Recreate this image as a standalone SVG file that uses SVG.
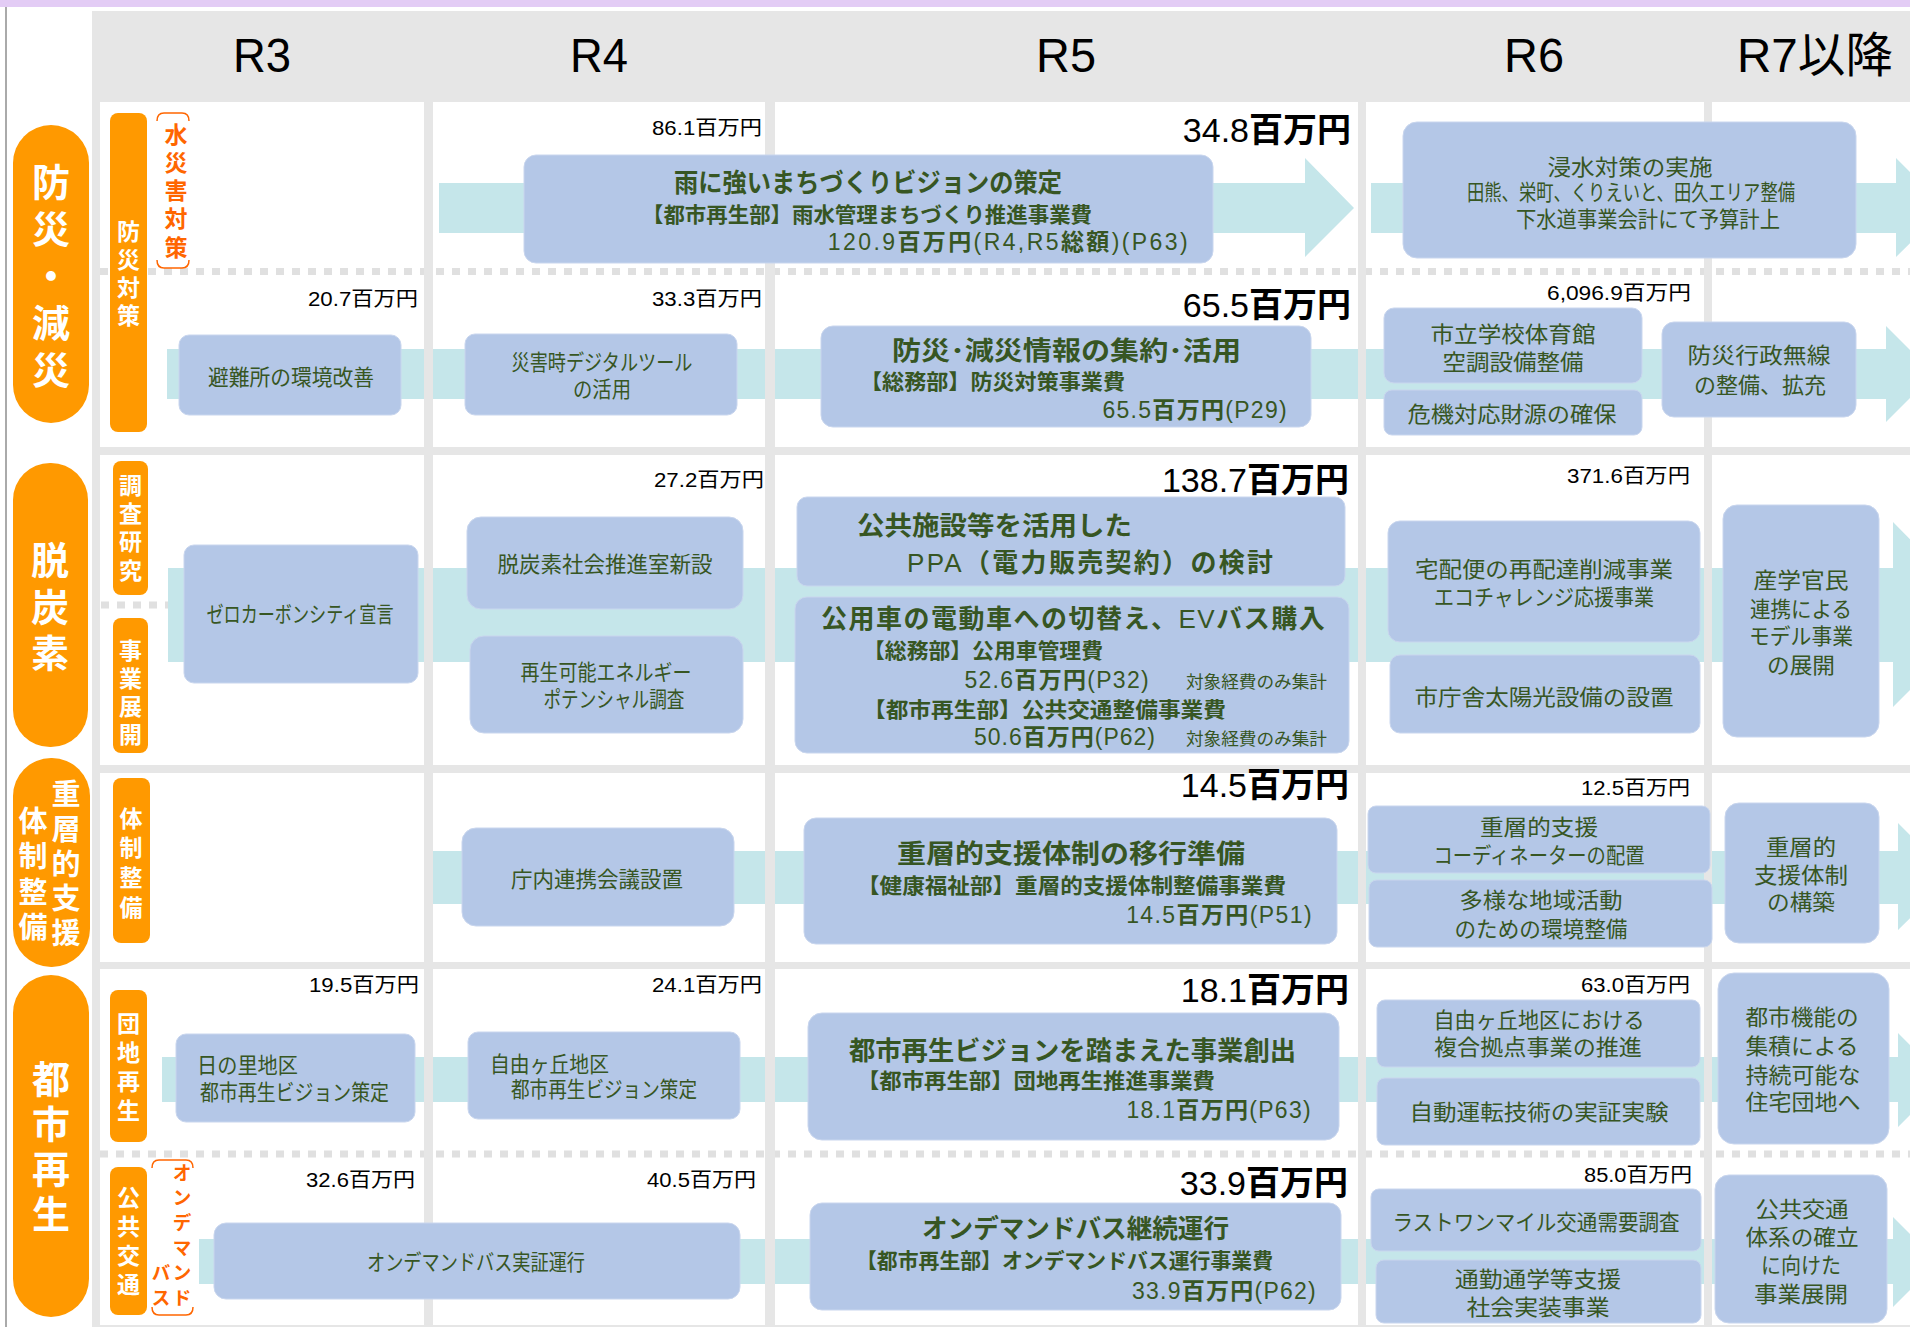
<svg xmlns="http://www.w3.org/2000/svg" width="1910" height="1327" viewBox="0 0 1910 1327">
<defs>
<style>
.cell{fill:#fff}
.sep{fill:#E6E6E6}
.band{fill:#C5E6EA}
.node{fill:#B4C7E7;stroke:#C9D6EE;stroke-width:1}
.dot{stroke:#E0E0E0;stroke-width:7;stroke-dasharray:8 8;fill:none}
.pill{fill:#FF9900}
.hdr{font-family:"Liberation Sans",Arial,sans-serif;font-size:48px;fill:#000;text-anchor:middle}
.hj{font-family:"Liberation Sans","Noto Sans CJK JP",sans-serif;font-size:48px;fill:#000}
.vw{font-family:"Noto Sans CJK JP",sans-serif;font-weight:bold;fill:#fff;writing-mode:vertical-rl;text-anchor:start}
.vo{font-family:"Noto Sans CJK JP",sans-serif;font-weight:bold;fill:#FF6600;writing-mode:vertical-rl;text-anchor:start}
.brk{fill:none;stroke:#FF6600;stroke-width:1.5}
.n{font-family:"Liberation Sans","Noto Sans CJK JP",sans-serif;font-size:22px;fill:#375623;text-anchor:middle}
.ns2{text-anchor:start}
.nt{font-family:"Liberation Sans","Noto Sans CJK JP",sans-serif;font-size:26px;font-weight:bold;fill:#375623}
.nd{font-family:"Liberation Sans","Noto Sans CJK JP",sans-serif;font-size:21px;font-weight:bold;fill:#375623}
.nm{font-family:"Liberation Sans","Noto Sans CJK JP",sans-serif;font-size:23px;fill:#375623;text-anchor:end}
.ns{font-family:"Liberation Sans","Noto Sans CJK JP",sans-serif;font-size:17px;fill:#375623}
.a{font-family:"Liberation Sans","Noto Sans CJK JP",sans-serif;font-size:20px;fill:#000;text-anchor:end}
.A{font-family:"Liberation Sans","Noto Sans CJK JP",sans-serif;font-size:34px;fill:#000;text-anchor:end}
.b{font-weight:bold}
.r{font-weight:normal;font-family:"Liberation Sans",sans-serif}
</style>
</defs>

<g id="background">
<rect x="0" y="0" width="1910" height="1327" fill="#fff"/>
<rect x="0" y="0" width="1910" height="7" fill="#E3CCF5"/>
<rect x="5" y="7" width="2" height="1320" fill="#AAAAAA"/>
<rect x="92" y="11" width="1818" height="1316" fill="#E6E6E6"/>
</g>

<g id="header">
<text class="hdr" x="262" y="72" textLength="58" lengthAdjust="spacingAndGlyphs">R3</text>
<text class="hdr" x="599" y="72" textLength="58" lengthAdjust="spacingAndGlyphs">R4</text>
<text class="hdr" x="1066" y="72" textLength="60" lengthAdjust="spacingAndGlyphs">R5</text>
<text class="hdr" x="1534" y="72" textLength="60" lengthAdjust="spacingAndGlyphs">R6</text>
<text class="hj" x="1737" y="72" textLength="156" lengthAdjust="spacingAndGlyphs">R7以降</text>
</g>

<g id="cells">
<rect class="cell" x="100" y="102" width="324" height="345"/>
<rect class="cell" x="433" y="102" width="332" height="345"/>
<rect class="cell" x="775" y="102" width="583" height="345"/>
<rect class="cell" x="1366" y="102" width="338" height="345"/>
<rect class="cell" x="1712" y="102" width="198" height="345"/>
<rect class="cell" x="100" y="455" width="324" height="310"/>
<rect class="cell" x="433" y="455" width="332" height="310"/>
<rect class="cell" x="775" y="455" width="583" height="310"/>
<rect class="cell" x="1366" y="455" width="338" height="310"/>
<rect class="cell" x="1712" y="455" width="198" height="310"/>
<rect class="cell" x="100" y="773" width="324" height="189"/>
<rect class="cell" x="433" y="773" width="332" height="189"/>
<rect class="cell" x="775" y="773" width="583" height="189"/>
<rect class="cell" x="1366" y="773" width="338" height="189"/>
<rect class="cell" x="1712" y="773" width="198" height="189"/>
<rect class="cell" x="100" y="969" width="324" height="356"/>
<rect class="cell" x="433" y="969" width="332" height="356"/>
<rect class="cell" x="775" y="969" width="583" height="356"/>
<rect class="cell" x="1366" y="969" width="338" height="356"/>
<rect class="cell" x="1712" y="969" width="198" height="356"/>
<line class="dot" x1="100" y1="271.5" x2="1910" y2="271.5"/>
<line class="dot" x1="100" y1="1154" x2="1910" y2="1154"/>
<line class="dot" x1="101" y1="605" x2="168" y2="605"/>
</g>

<g id="connectors">
<polygon class="band" points="439,183 1305,183 1305,158 1354,208 1305,257 1305,233 439,233"/>
<polygon class="band" points="1371,183 1896,183 1896,158 1946,208 1896,257 1896,233 1371,233"/>
<polygon class="band" points="167,349 1886,349 1886,326 1934,374 1886,422 1886,399 167,399"/>
<polygon class="band" points="168,568 1893,568 1893,522 1985,615 1893,707 1893,662 168,662"/>
<polygon class="band" points="433,851 1898,851 1898,823 1952,877 1898,930 1898,904 433,904"/>
<polygon class="band" points="162,1057 1898,1057 1898,1033 1945,1080 1898,1127 1898,1102 162,1102"/>
<polygon class="band" points="199,1239 1893,1239 1893,1217 1938,1262 1893,1307 1893,1284 199,1284"/>
</g>

<g id="separators">
<rect class="sep" x="424" y="102" width="9" height="1223"/>
<rect class="sep" x="765" y="102" width="10" height="1223"/>
<rect class="sep" x="1358" y="102" width="8" height="1223"/>
<rect class="sep" x="1704" y="102" width="8" height="1223"/>
<rect class="sep" x="100" y="447" width="1810" height="8"/>
<rect class="sep" x="100" y="765" width="1810" height="8"/>
<rect class="sep" x="100" y="962" width="1810" height="7"/>
</g>

<g id="cat-bousai">
<rect class="pill" x="13" y="125" width="76" height="298" rx="38"/>
<text class="vw" x="51" y="163" font-size="38" letter-spacing="9">防災・減災</text>
</g>
<g id="cat-datsutanso">
<rect class="pill" x="13" y="463" width="75" height="284" rx="37"/>
<text class="vw" x="50" y="541" font-size="38" letter-spacing="8.5">脱炭素</text>
</g>
<g id="cat-juusou">
<rect class="pill" x="13" y="758" width="77" height="209" rx="38"/>
<text class="vw" x="66" y="779.5" font-size="29" letter-spacing="5.75">重層的支援</text>
<text class="vw" x="33" y="806.5" font-size="29" letter-spacing="6.3">体制整備</text>
</g>
<g id="cat-toshi">
<rect class="pill" x="13" y="975" width="76" height="342" rx="38"/>
<text class="vw" x="51" y="1060" font-size="38" letter-spacing="6.7">都市再生</text>
</g>

<g id="sub-bousaitaisaku">
<rect class="pill" x="110" y="113" width="37" height="319" rx="8"/>
<text class="vw" x="128.5" y="219.5" font-size="23" letter-spacing="5">防災対策</text>
</g>
<g id="sub-suisai">
<path class="brk" d="M157,121 Q157,113 164,113 L182,113 Q189,113 189,121"/>
<path class="brk" d="M157,260 Q157,268 164,268 L182,268 Q189,268 189,260"/>
<text class="vo" x="176" y="122.5" font-size="23" letter-spacing="5.25">水災害対策</text>
</g>
<g id="sub-chousa">
<rect class="pill" x="113" y="461" width="35" height="134" rx="8"/>
<text class="vw" x="130.5" y="473.5" font-size="23" letter-spacing="5.3">調査研究</text>
</g>
<g id="sub-jigyou">
<rect class="pill" x="113" y="618" width="35" height="135" rx="8"/>
<text class="vw" x="130.5" y="638.5" font-size="23" letter-spacing="5">事業展開</text>
</g>
<g id="sub-taisei">
<rect class="pill" x="113" y="778" width="37" height="165" rx="8"/>
<text class="vw" x="131" y="806.5" font-size="23" letter-spacing="6.7">体制整備</text>
</g>
<g id="sub-danchi">
<rect class="pill" x="110" y="990" width="37" height="152" rx="8"/>
<text class="vw" x="128.5" y="1011.5" font-size="23" letter-spacing="6">団地再生</text>
</g>
<g id="sub-koukyou">
<rect class="pill" x="110" y="1167" width="37" height="148" rx="8"/>
<text class="vw" x="128.5" y="1185.5" font-size="23" letter-spacing="6">公共交通</text>
</g>
<g id="sub-ondemand">
<path class="brk" d="M152,1168 Q152,1160 159,1160 L186,1160 Q193,1160 193,1168"/>
<path class="brk" d="M152,1307 Q152,1315 159,1315 L186,1315 Q193,1315 193,1307"/>
<text class="vo" x="182" y="1163.5" font-size="19" letter-spacing="6">オンデマンド</text>
<text class="vo" x="161" y="1263.5" font-size="19" letter-spacing="6">バス</text>
</g>

<g id="amounts">
<text class="a" x="762" y="135" textLength="110" lengthAdjust="spacingAndGlyphs">86.1百万円</text>
<text class="A" x="1351" y="142">34.8<tspan class="b">百万円</tspan></text>
<text class="a" x="418" y="306" textLength="110" lengthAdjust="spacingAndGlyphs">20.7百万円</text>
<text class="a" x="762" y="306" textLength="110" lengthAdjust="spacingAndGlyphs">33.3百万円</text>
<text class="A" x="1351" y="317">65.5<tspan class="b">百万円</tspan></text>
<text class="a" x="1691" y="300" textLength="144" lengthAdjust="spacingAndGlyphs">6,096.9百万円</text>
<text class="a" x="764" y="487" textLength="110" lengthAdjust="spacingAndGlyphs">27.2百万円</text>
<text class="A" x="1349" y="492">138.7<tspan class="b">百万円</tspan></text>
<text class="a" x="1690" y="483" textLength="123" lengthAdjust="spacingAndGlyphs">371.6百万円</text>
<text class="A" x="1349" y="797">14.5<tspan class="b">百万円</tspan></text>
<text class="a" x="1690" y="795" textLength="109" lengthAdjust="spacingAndGlyphs">12.5百万円</text>
<text class="a" x="419" y="992" textLength="110" lengthAdjust="spacingAndGlyphs">19.5百万円</text>
<text class="a" x="762" y="992" textLength="110" lengthAdjust="spacingAndGlyphs">24.1百万円</text>
<text class="A" x="1349" y="1002">18.1<tspan class="b">百万円</tspan></text>
<text class="a" x="1690" y="992" textLength="109" lengthAdjust="spacingAndGlyphs">63.0百万円</text>
<text class="a" x="415" y="1187" textLength="109" lengthAdjust="spacingAndGlyphs">32.6百万円</text>
<text class="a" x="756" y="1187" textLength="109" lengthAdjust="spacingAndGlyphs">40.5百万円</text>
<text class="A" x="1348" y="1195">33.9<tspan class="b">百万円</tspan></text>
<text class="a" x="1692" y="1182" textLength="108" lengthAdjust="spacingAndGlyphs">85.0百万円</text>
</g>

<g id="node-amenitsuyoi">
<rect class="node" x="524" y="155" width="689" height="108" rx="12"/>
<text class="nt" x="674" y="192" textLength="388" lengthAdjust="spacingAndGlyphs">雨に強いまちづくりビジョンの策定</text>
<text class="nd" x="642" y="222" textLength="450" lengthAdjust="spacingAndGlyphs">【都市再生部】雨水管理まちづくり推進事業費</text>
<text class="nm" x="1190" y="250" letter-spacing="2.4">120.9<tspan class="b">百万円</tspan>(R4,R5<tspan class="b">総額</tspan>)(P63)</text>
</g>
<g id="node-shinsui">
<rect class="node" x="1403" y="122" width="453" height="136" rx="14"/>
<text class="n" x="1630" y="175" textLength="165" lengthAdjust="spacingAndGlyphs">浸水対策の実施</text>
<text class="n" x="1631" y="200" font-size="19" textLength="328" lengthAdjust="spacingAndGlyphs">田熊、栄町、くりえいと、田久エリア整備</text>
<text class="n" x="1648" y="227" font-size="20" textLength="264" lengthAdjust="spacingAndGlyphs">下水道事業会計にて予算計上</text>
</g>
<g id="node-hinanjo">
<rect class="node" x="179" y="335" width="222" height="80" rx="10"/>
<text class="n" x="291" y="385" textLength="166" lengthAdjust="spacingAndGlyphs">避難所の環境改善</text>
</g>
<g id="node-digital">
<rect class="node" x="465" y="334" width="272" height="81" rx="10"/>
<text class="n" x="602" y="370" textLength="181" lengthAdjust="spacingAndGlyphs">災害時デジタルツール</text>
<text class="n" x="602" y="397" textLength="58" lengthAdjust="spacingAndGlyphs">の活用</text>
</g>
<g id="node-bousaijouhou">
<rect class="node" x="821" y="326" width="490" height="101" rx="12"/>
<text class="nt" x="892" y="360" textLength="349" lengthAdjust="spacingAndGlyphs">防災･減災情報の集約･活用</text>
<text class="nd" x="860" y="389" textLength="265" lengthAdjust="spacingAndGlyphs">【総務部】防災対策事業費</text>
<text class="nm" x="1288" y="418" letter-spacing="1.3">65.5<tspan class="b">百万円</tspan>(P29)</text>
</g>
<g id="node-taiikukan">
<rect class="node" x="1384" y="308" width="258" height="75" rx="10"/>
<text class="n" x="1513" y="342" textLength="165" lengthAdjust="spacingAndGlyphs">市立学校体育館</text>
<text class="n" x="1513" y="370" textLength="141" lengthAdjust="spacingAndGlyphs">空調設備整備</text>
</g>
<g id="node-kiki">
<rect class="node" x="1384" y="390" width="258" height="45" rx="8"/>
<text class="n" x="1512" y="422" textLength="209" lengthAdjust="spacingAndGlyphs">危機対応財源の確保</text>
</g>
<g id="node-musen">
<rect class="node" x="1662" y="322" width="194" height="95" rx="12"/>
<text class="n" x="1759" y="363" textLength="143" lengthAdjust="spacingAndGlyphs">防災行政無線</text>
<text class="n" x="1760" y="393" textLength="132" lengthAdjust="spacingAndGlyphs">の整備、拡充</text>
</g>

<g id="node-zerocarbon">
<rect class="node" x="184" y="545" width="234" height="138" rx="10"/>
<text class="n" x="300" y="622" font-size="21" textLength="187" lengthAdjust="spacingAndGlyphs">ゼロカーボンシティ宣言</text>
</g>
<g id="node-suishinshitsu">
<rect class="node" x="467" y="517" width="276" height="92" rx="14"/>
<text class="n" x="605" y="572" font-size="21" textLength="215" lengthAdjust="spacingAndGlyphs">脱炭素社会推進室新設</text>
</g>
<g id="node-potential">
<rect class="node" x="470" y="636" width="273" height="97" rx="14"/>
<text class="n" x="606" y="680" font-size="21" textLength="171" lengthAdjust="spacingAndGlyphs">再生可能エネルギー</text>
<text class="n" x="614" y="707" font-size="21" textLength="141" lengthAdjust="spacingAndGlyphs">ポテンシャル調査</text>
</g>
<g id="node-ppa">
<rect class="node" x="797" y="497" width="548" height="89" rx="10"/>
<text class="nt" x="857" y="535" font-size="27" textLength="275" lengthAdjust="spacingAndGlyphs">公共施設等を活用した</text>
<text class="nt" x="907" y="572" font-size="27" letter-spacing="2.3"><tspan class="r">PPA</tspan>（電力販売契約）の検討</text>
</g>
<g id="node-kouyousha">
<rect class="node" x="795" y="597" width="554" height="156" rx="12"/>
<text class="nt" x="821" y="628" letter-spacing="1.5">公用車の電動車への切替え、<tspan class="r">EV</tspan>バス購入</text>
<text class="nd" x="863" y="658" textLength="240" lengthAdjust="spacingAndGlyphs">【総務部】公用車管理費</text>
<text class="nm" x="1150" y="688" letter-spacing="1.3">52.6<tspan class="b">百万円</tspan>(P32)</text>
<text class="ns" x="1186" y="688" textLength="141" lengthAdjust="spacingAndGlyphs">対象経費のみ集計</text>
<text class="nd" x="863" y="717" textLength="363" lengthAdjust="spacingAndGlyphs">【都市再生部】公共交通整備事業費</text>
<text class="nm" x="1156" y="745" letter-spacing="1">50.6<tspan class="b">百万円</tspan>(P62)</text>
<text class="ns" x="1186" y="745" textLength="141" lengthAdjust="spacingAndGlyphs">対象経費のみ集計</text>
</g>
<g id="node-takuhai">
<rect class="node" x="1388" y="521" width="312" height="121" rx="12"/>
<text class="n" x="1544" y="577" textLength="258" lengthAdjust="spacingAndGlyphs">宅配便の再配達削減事業</text>
<text class="n" x="1544" y="605" textLength="220" lengthAdjust="spacingAndGlyphs">エコチャレンジ応援事業</text>
</g>
<g id="node-taiyoukou">
<rect class="node" x="1390" y="655" width="310" height="78" rx="10"/>
<text class="n" x="1544" y="705" textLength="259" lengthAdjust="spacingAndGlyphs">市庁舎太陽光設備の設置</text>
</g>
<g id="node-sangaku">
<rect class="node" x="1723" y="505" width="156" height="232" rx="14"/>
<text class="n" x="1801" y="588" textLength="95" lengthAdjust="spacingAndGlyphs">産学官民</text>
<text class="n" x="1801" y="617" textLength="102" lengthAdjust="spacingAndGlyphs">連携による</text>
<text class="n" x="1801" y="644" textLength="104" lengthAdjust="spacingAndGlyphs">モデル事業</text>
<text class="n" x="1801" y="673" textLength="68" lengthAdjust="spacingAndGlyphs">の展開</text>
</g>

<g id="node-chounai">
<rect class="node" x="462" y="828" width="272" height="98" rx="14"/>
<text class="n" x="597" y="887" font-size="21" textLength="172" lengthAdjust="spacingAndGlyphs">庁内連携会議設置</text>
</g>
<g id="node-ikoujunbi">
<rect class="node" x="804" y="818" width="533" height="126" rx="12"/>
<text class="nt" x="897" y="863" font-size="27" textLength="348" lengthAdjust="spacingAndGlyphs">重層的支援体制の移行準備</text>
<text class="nd" x="857" y="893" textLength="429" lengthAdjust="spacingAndGlyphs">【健康福祉部】重層的支援体制整備事業費</text>
<text class="nm" x="1313" y="923" letter-spacing="1.4">14.5<tspan class="b">百万円</tspan>(P51)</text>
</g>
<g id="node-coordinator">
<rect class="node" x="1368" y="806" width="342" height="67" rx="8"/>
<text class="n" x="1539" y="835" textLength="118" lengthAdjust="spacingAndGlyphs">重層的支援</text>
<text class="n" x="1539" y="863" textLength="211" lengthAdjust="spacingAndGlyphs">コーディネーターの配置</text>
</g>
<g id="node-tayou">
<rect class="node" x="1369" y="880" width="343" height="67" rx="8"/>
<text class="n" x="1541" y="908" textLength="163" lengthAdjust="spacingAndGlyphs">多様な地域活動</text>
<text class="n" x="1541" y="937" textLength="173" lengthAdjust="spacingAndGlyphs">のための環境整備</text>
</g>
<g id="node-kouchiku">
<rect class="node" x="1725" y="803" width="154" height="140" rx="14"/>
<text class="n" x="1801" y="855" textLength="70" lengthAdjust="spacingAndGlyphs">重層的</text>
<text class="n" x="1801" y="883" textLength="94" lengthAdjust="spacingAndGlyphs">支援体制</text>
<text class="n" x="1801" y="910" textLength="68" lengthAdjust="spacingAndGlyphs">の構築</text>
</g>

<g id="node-hinosato">
<rect class="node" x="176" y="1034" width="239" height="88" rx="10"/>
<text class="n ns2" x="197" y="1073" textLength="101" lengthAdjust="spacingAndGlyphs">日の里地区</text>
<text class="n ns2" x="200" y="1100" textLength="189" lengthAdjust="spacingAndGlyphs">都市再生ビジョン策定</text>
</g>
<g id="node-jiyugaoka">
<rect class="node" x="468" y="1032" width="272" height="87" rx="10"/>
<text class="n ns2" x="490" y="1072" textLength="119" lengthAdjust="spacingAndGlyphs">自由ヶ丘地区</text>
<text class="n ns2" x="511" y="1097" textLength="186" lengthAdjust="spacingAndGlyphs">都市再生ビジョン策定</text>
</g>
<g id="node-jigyousoushutsu">
<rect class="node" x="808" y="1013" width="531" height="127" rx="14"/>
<text class="nt" x="849" y="1060" font-size="27" textLength="447" lengthAdjust="spacingAndGlyphs">都市再生ビジョンを踏まえた事業創出</text>
<text class="nd" x="857" y="1088" textLength="358" lengthAdjust="spacingAndGlyphs">【都市再生部】団地再生推進事業費</text>
<text class="nm" x="1312" y="1118" letter-spacing="1.3">18.1<tspan class="b">百万円</tspan>(P63)</text>
</g>
<g id="node-fukugou">
<rect class="node" x="1377" y="1000" width="323" height="67" rx="8"/>
<text class="n" x="1539" y="1028" textLength="211" lengthAdjust="spacingAndGlyphs">自由ヶ丘地区における</text>
<text class="n" x="1538" y="1055" textLength="208" lengthAdjust="spacingAndGlyphs">複合拠点事業の推進</text>
</g>
<g id="node-jidouunten">
<rect class="node" x="1377" y="1078" width="323" height="67" rx="8"/>
<text class="n" x="1539" y="1120" textLength="259" lengthAdjust="spacingAndGlyphs">自動運転技術の実証実験</text>
</g>
<g id="node-toshikinou">
<rect class="node" x="1718" y="973" width="171" height="171" rx="16"/>
<text class="n" x="1802" y="1025" textLength="113" lengthAdjust="spacingAndGlyphs">都市機能の</text>
<text class="n" x="1802" y="1054" textLength="113" lengthAdjust="spacingAndGlyphs">集積による</text>
<text class="n" x="1803" y="1083" textLength="115" lengthAdjust="spacingAndGlyphs">持続可能な</text>
<text class="n" x="1803" y="1110" textLength="115" lengthAdjust="spacingAndGlyphs">住宅団地へ</text>
</g>

<g id="node-ondemand-jisshou">
<rect class="node" x="214" y="1223" width="526" height="76" rx="12"/>
<text class="n" x="476" y="1270" font-size="21" textLength="218" lengthAdjust="spacingAndGlyphs">オンデマンドバス実証運行</text>
</g>
<g id="node-ondemand-keizoku">
<rect class="node" x="810" y="1203" width="531" height="107" rx="12"/>
<text class="nt" x="922" y="1238" font-size="27" textLength="307" lengthAdjust="spacingAndGlyphs">オンデマンドバス継続運行</text>
<text class="nd" x="856" y="1268" textLength="417" lengthAdjust="spacingAndGlyphs">【都市再生部】オンデマンドバス運行事業費</text>
<text class="nm" x="1317" y="1299" letter-spacing="1.25">33.9<tspan class="b">百万円</tspan>(P62)</text>
</g>
<g id="node-lastonemile">
<rect class="node" x="1371" y="1189" width="330" height="62" rx="8"/>
<text class="n" x="1536" y="1230" textLength="287" lengthAdjust="spacingAndGlyphs">ラストワンマイル交通需要調査</text>
</g>
<g id="node-tsuukin">
<rect class="node" x="1376" y="1260" width="325" height="63" rx="8"/>
<text class="n" x="1538" y="1287" textLength="166" lengthAdjust="spacingAndGlyphs">通勤通学等支援</text>
<text class="n" x="1538" y="1315" textLength="143" lengthAdjust="spacingAndGlyphs">社会実装事業</text>
</g>
<g id="node-koukyoukoutsuu">
<rect class="node" x="1715" y="1175" width="172" height="148" rx="14"/>
<text class="n" x="1802" y="1217" textLength="93" lengthAdjust="spacingAndGlyphs">公共交通</text>
<text class="n" x="1802" y="1245" textLength="113" lengthAdjust="spacingAndGlyphs">体系の確立</text>
<text class="n" x="1801" y="1273" textLength="80" lengthAdjust="spacingAndGlyphs">に向けた</text>
<text class="n" x="1801" y="1302" textLength="94" lengthAdjust="spacingAndGlyphs">事業展開</text>
</g>
</svg>
